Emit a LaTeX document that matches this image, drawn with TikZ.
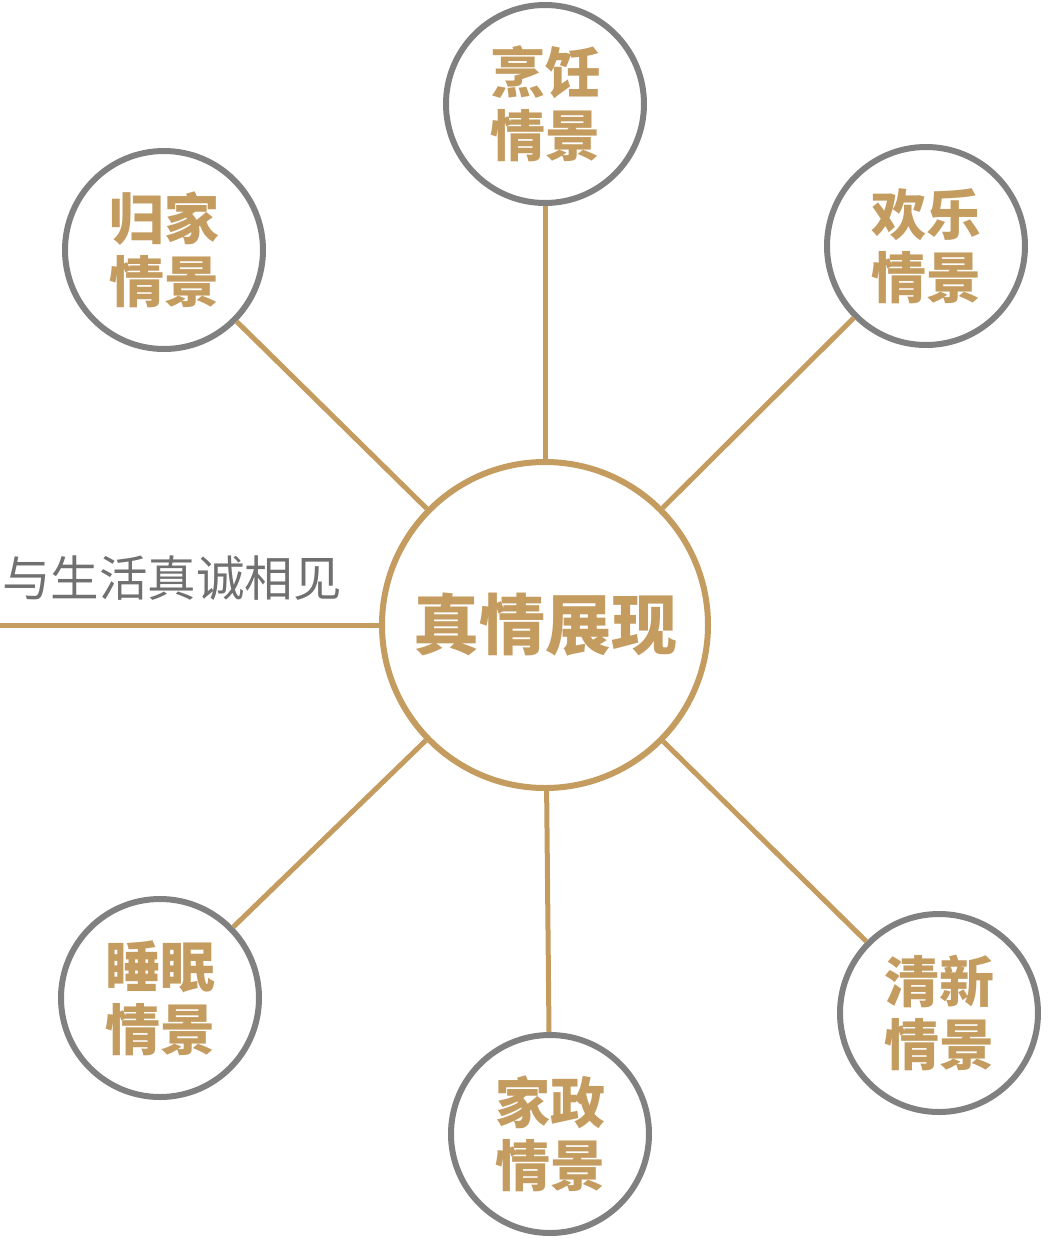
\documentclass[tikz,border=0pt]{standalone}
\usepackage{fontspec}
\newfontfamily\cjkbold{Noto Sans CJK SC Black}
\newfontfamily\cjk{Noto Sans CJK SC}
\usetikzlibrary{positioning}
\definecolor{gold}{RGB}{196,156,96}
\definecolor{ring}{RGB}{128,128,128}
\definecolor{note}{RGB}{112,112,112}
\tikzset{%
  link/.style = {
    draw = #1,
    line width = 5pt,
  },
  link/.default = {gold},
  scene/.style = {
    circle,
    draw = #1,
    line width = 6pt,
    fill = white,
    inner sep = 0pt,
    minimum size = 198pt,
    align = center,
    text = gold,
    font = \cjkbold\fontsize{55pt}{63pt}\selectfont,
  },
  scene/.default = {ring},
  hub/.style = {
    circle,
    draw = gold,
    line width = 6pt,
    fill = white,
    inner sep = 0pt,
    minimum size = 326pt,
    text = gold,
    font = \cjkbold\fontsize{66pt}{70pt}\selectfont,
  },
}

\begin{document}
\begin{tikzpicture}[x=1pt, y=-1pt]
\useasboundingbox (0,0) rectangle (1058,1259);

\coordinate (lend) at (0,625);

\node(hub) [hub] at (545,625) {真情展现};
\node(s1) [scene] at (545,104)  {烹饪\\情景};
\node(s2) [scene] at (926,246)  {欢乐\\情景};
\node(s3) [scene] at (939,1013) {清新\\情景};
\node(s4) [scene] at (550,1134) {家政\\情景};
\node(s5) [scene] at (160,998)  {睡眠\\情景};
\node(s6) [scene] at (164,250)  {归家\\情景};
\node(motto) [anchor=west, text=note, inner sep=0pt,
  font=\cjk\fontsize{48.5pt}{52pt}\selectfont] at (2,578) {与生活真诚相见};

\foreach \s in {s1,s2,s3,s4,s5,s6}
  \draw[link] (hub) -- (\s);
\draw[link] (lend) -- (hub);
\end{tikzpicture}
\end{document}
